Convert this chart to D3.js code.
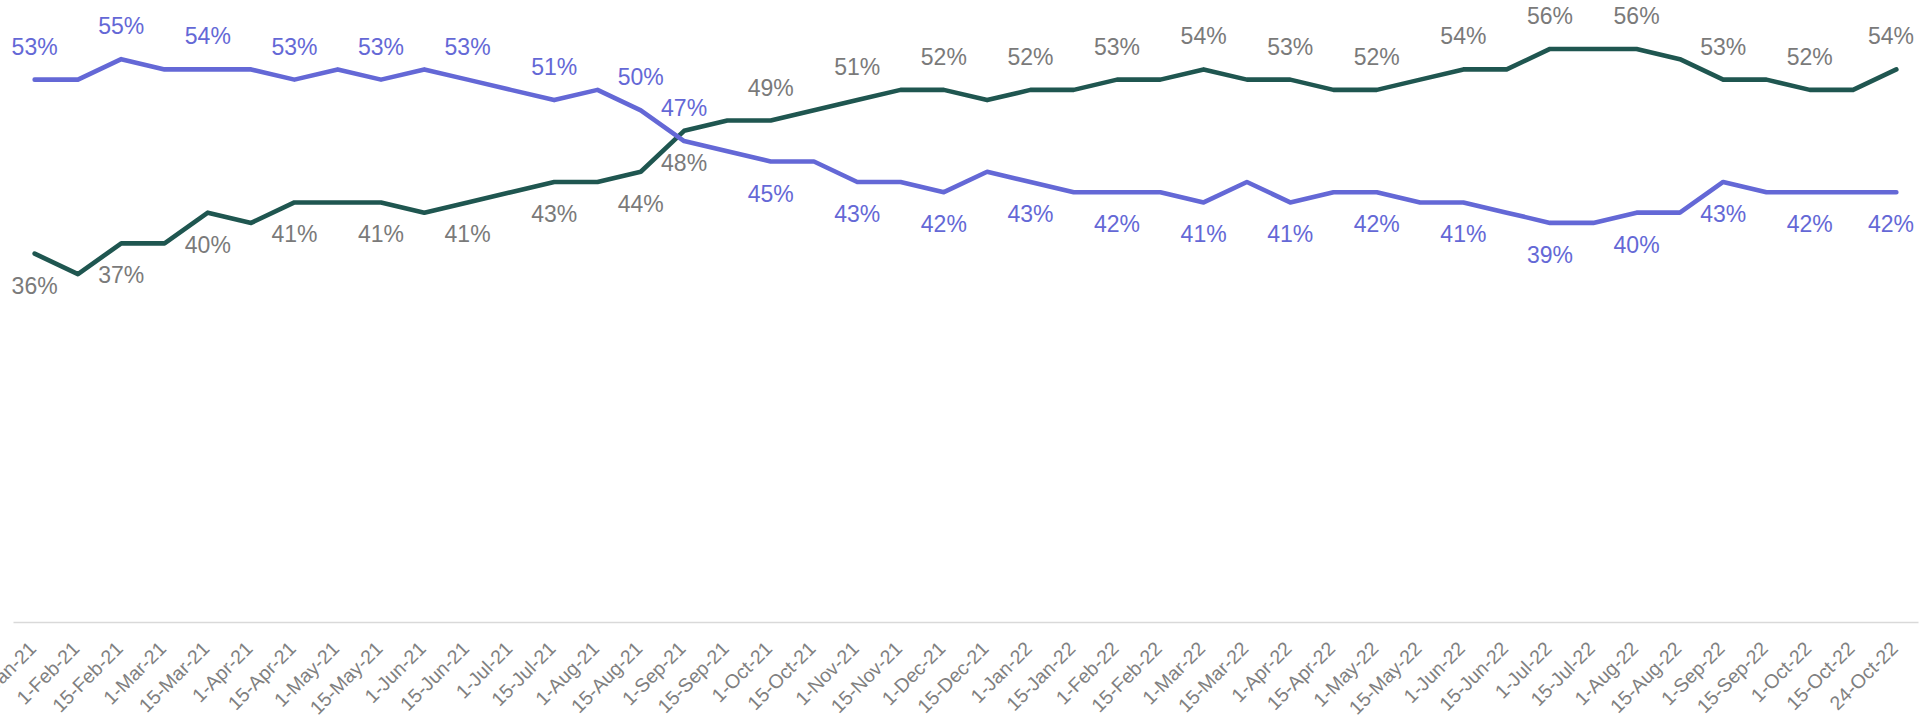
<!DOCTYPE html>
<html>
<head>
<meta charset="utf-8">
<script src="https://cdn.jsdelivr.net/npm/d3@7"></script>
<style>
  html, body { margin: 0; padding: 0; background: #ffffff; }
  svg { display: block; }
  text { font-family: "Liberation Sans", Arial, sans-serif; }
</style>
</head>
<body>
<svg id="chart" width="1921" height="721"></svg>
<script>
// ---- Data ----
const categories = [
  "15-Jan-21","1-Feb-21","15-Feb-21","1-Mar-21","15-Mar-21","1-Apr-21","15-Apr-21","1-May-21","15-May-21",
  "1-Jun-21","15-Jun-21","1-Jul-21","15-Jul-21","1-Aug-21","15-Aug-21","1-Sep-21","15-Sep-21","1-Oct-21",
  "15-Oct-21","1-Nov-21","15-Nov-21","1-Dec-21","15-Dec-21","1-Jan-22","15-Jan-22","1-Feb-22","15-Feb-22",
  "1-Mar-22","15-Mar-22","1-Apr-22","15-Apr-22","1-May-22","15-May-22","1-Jun-22","15-Jun-22","1-Jul-22",
  "15-Jul-22","1-Aug-22","15-Aug-22","1-Sep-22","15-Sep-22","1-Oct-22","15-Oct-22","24-Oct-22"
];
const seriesPurple = [
  53,53,55,54,54,54,53,54,53,54,
  53,52,51,52,50,47,46,45,45,43,
  43,42,44,43,42,42,42,41,43,41,
  42,42,41,41,40,39,39,40,40,43,
  42,42,42,42
];
const seriesGreen = [
  36,34,37,37,40,39,41,41,41,40,
  41,42,43,43,44,48,49,49,50,51,
  52,52,51,52,52,53,53,54,53,53,
  52,52,53,54,54,56,56,56,55,53,
  53,52,52,54
];
// Points that carry a data label
const labelIdx = [0,2,4,6,8,10,12,14,15,17,19,21,23,25,27,29,31,33,35,37,39,41,43];
// From this index on, labels swap sides (after the lines cross)
const switchIdx = 16;
const yTicks = [0, 60];

// ---- Layout ----
const W = 1921, H = 721;
const svg = d3.select("#chart");
const axisY = 622;

const x = d3.scaleBand().domain(categories).range([13, 1918]).padding(0);
const y = d3.scaleLinear().domain([yTicks[0], yTicks[1]]).range([axisY, 8]);
const cx = (i) => x(categories[i]) + x.bandwidth() / 2;

const colPurple = "#6468D6";
const colGreen = "#1F5650";
const colGreyText = "#7a7a7a";

// ---- Axis ----
const axis = d3.axisBottom(x).tickSize(0).tickSizeOuter(0);
const gAxis = svg.append("g").attr("transform", `translate(0,${axisY})`).call(axis);
gAxis.select(".domain").attr("stroke", "#d9d9d9").attr("stroke-width", 1.5);
gAxis.selectAll(".tick text")
  .attr("x", 0).attr("y", 0).attr("dy", "0.35em")
  .attr("transform", "translate(-2,23) rotate(-45)")
  .attr("text-anchor", "end")
  .attr("fill", "#808080")
  .style("font-size", "19.5px")
  .style("font-family", '"Liberation Sans", Arial, sans-serif');

// ---- Lines ----
const line = d3.line().x((d, i) => cx(i)).y(d => y(d));
[[seriesGreen, colGreen], [seriesPurple, colPurple]].forEach(([data, col]) => {
  svg.append("path")
    .datum(data)
    .attr("d", line)
    .attr("fill", "none")
    .attr("stroke", col)
    .attr("stroke-width", 4.6)
    .attr("stroke-linejoin", "round")
    .attr("stroke-linecap", "round");
});

// ---- Data labels ----
function addLabels(data, color, aboveBefore) {
  const g = svg.append("g");
  labelIdx.forEach(i => {
    const above = (i < switchIdx) ? aboveBefore : !aboveBefore;
    const t = g.append("text")
      .attr("x", cx(i))
      .attr("y", above ? y(data[i]) - 25 : y(data[i]) + 40)
      .attr("text-anchor", "middle")
      .attr("fill", color)
      .style("font-size", "23px")
      .text(data[i] + "%");
    const bb = t.node().getBBox();
    if (bb.x + bb.width > W - 7) t.attr("x", cx(i) - (bb.x + bb.width - (W - 7)));
    if (bb.x < 2) t.attr("x", cx(i) + (2 - bb.x));
  });
}
addLabels(seriesPurple, colPurple, true);
addLabels(seriesGreen, colGreyText, false);
</script>
</body>
</html>
